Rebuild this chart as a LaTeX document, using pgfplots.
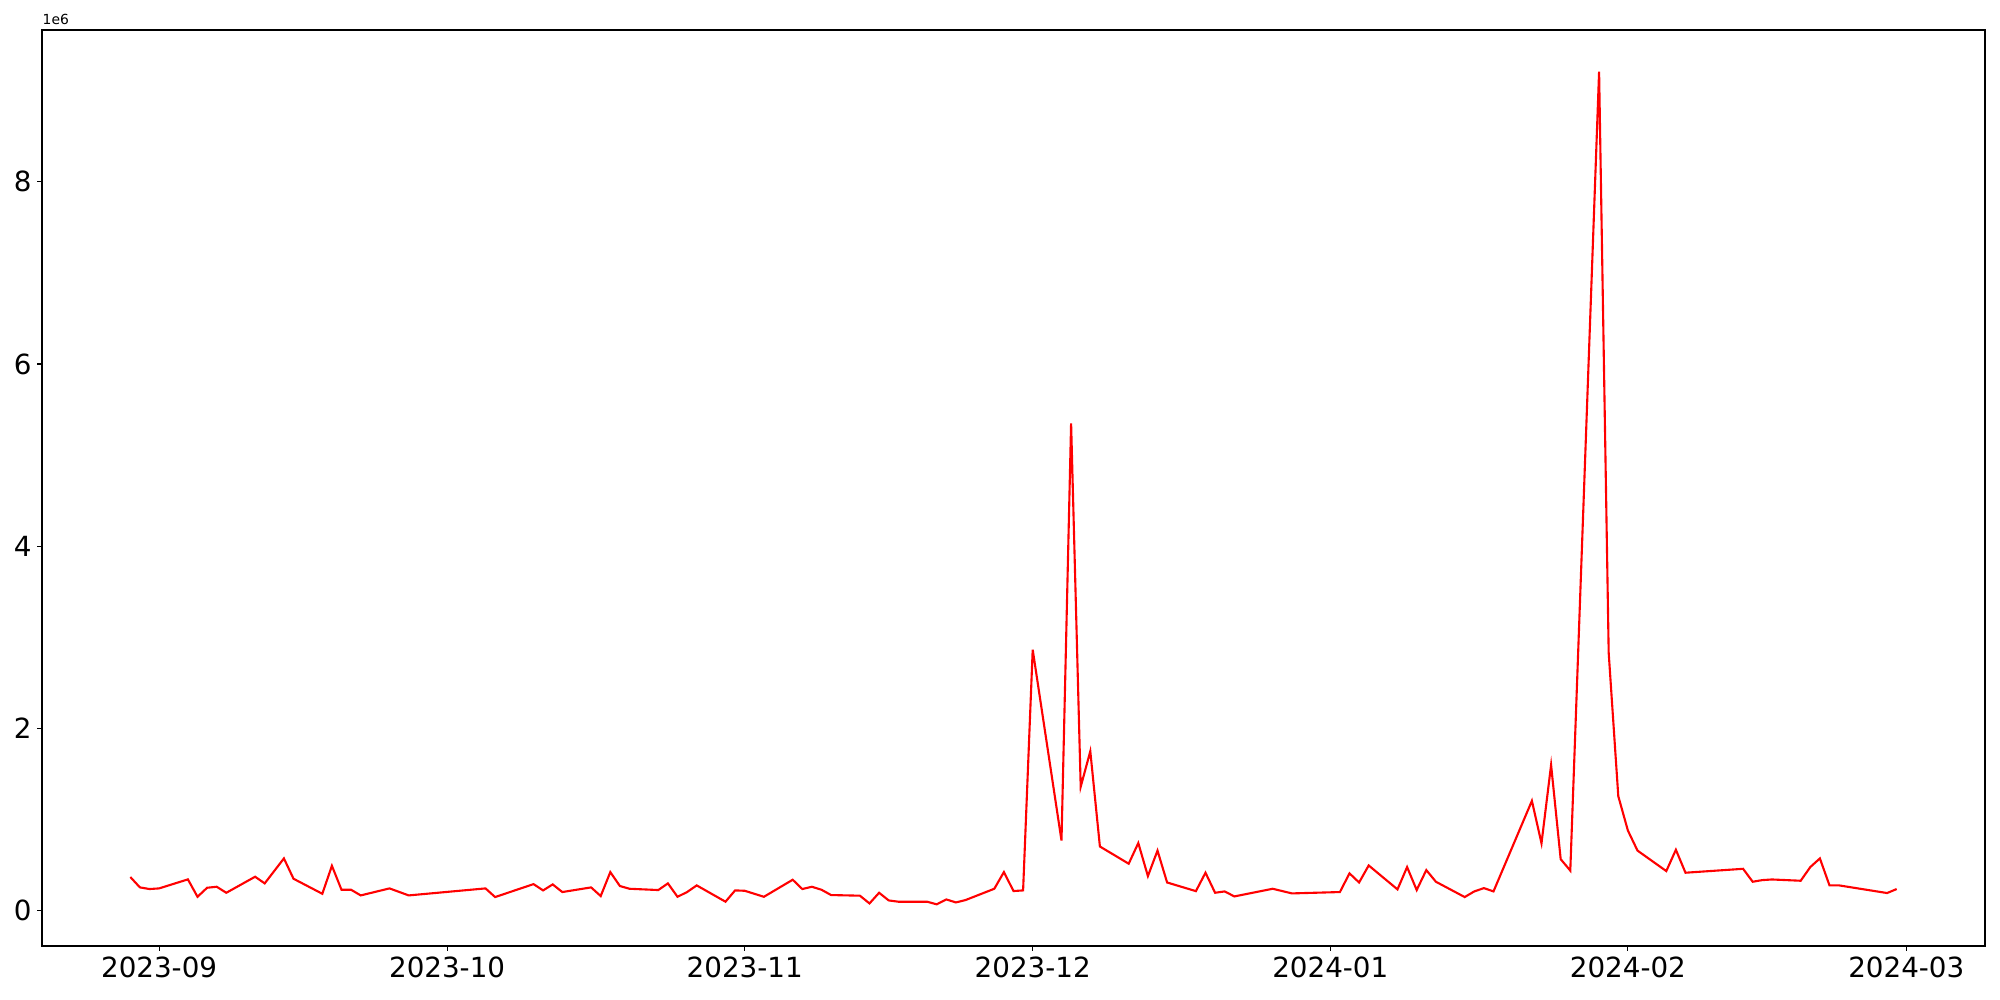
\documentclass[border=0pt]{standalone}
\usepackage{fontspec}
\setmainfont{DejaVu Sans}
\usepackage{pgfplots}
\pgfplotsset{compat=1.18}
\begin{document}
\begin{tikzpicture}
\path (0,0) rectangle (20cm,10cm);
\begin{axis}[
  at={(0.42cm,0.54cm)}, anchor=south west,
  scale only axis, width=19.43cm, height=9.16cm,
  xmin=-12.2, xmax=190.2, ymin=-0.387, ymax=9.667,
  axis line style={line width=0.32pt},
  tick style={line width=0.32pt, black},
  major tick length=1.38pt,
  tick align=outside,
  xtick={0,30,61,91,122,153,182},
  xticklabels={2023-09,2023-10,2023-11,2023-12,2024-01,2024-02,2024-03},
  ytick={0,2,4,6,8},
  xtick pos=bottom, ytick pos=left,
  tick label style={font=\fontsize{7.9}{9}\selectfont},
  /pgf/number format/assume math mode=true,
  xticklabel style={yshift=0pt},
  every tick label/.append style={inner sep=1.4pt},
  clip=false,
]
\addplot[red, line width=0.6pt] coordinates {
(-3,0.37) (-2,0.256) (-1,0.238) (0,0.245) (3,0.344) (4,0.153) (5,0.252) (6,0.263) (7,0.197)
(10,0.373) (11,0.30) (13,0.574) (14,0.351) (17,0.186) (18,0.493) (19,0.23) (20,0.23) (21,0.168)
(24,0.245) (26,0.168) (34,0.245) (35,0.15) (39,0.292) (40,0.223) (41,0.289) (42,0.205)
(45,0.256) (46,0.161) (47,0.424) (48,0.271) (49,0.241) (52,0.227) (53,0.30) (54,0.153) (55,0.205) (56,0.278)
(59,0.099) (60,0.223) (61,0.219) (63,0.153) (66,0.34) (67,0.238) (68,0.263) (69,0.23) (70,0.172)
(73,0.165) (74,0.08) (75,0.197) (76,0.113) (77,0.099) (80,0.099) (81,0.07) (82,0.124) (83,0.091) (84,0.117)
(87,0.241) (88,0.424) (89,0.216) (90,0.223) (91,2.865) (94,0.77) (95,5.35) (96,1.36) (97,1.75) (98,0.705)
(101,0.516) (102,0.743) (103,0.38) (104,0.66) (105,0.31) (108,0.215) (109,0.417) (110,0.197) (111,0.212) (112,0.157)
(116,0.241) (118,0.19) (123,0.205) (124,0.41) (125,0.31) (126,0.497) (129,0.234) (130,0.479) (131,0.227) (132,0.446) (133,0.318)
(136,0.15) (137,0.212) (138,0.248) (139,0.212) (143,1.206) (144,0.74) (145,1.60) (146,0.566) (147,0.44)
(150,9.21) (151,2.83) (152,1.257) (153,0.88) (154,0.66) (157,0.435) (158,0.669) (159,0.417)
(165,0.46) (166,0.318) (167,0.336) (168,0.343) (171,0.329) (172,0.479) (173,0.574) (174,0.278) (175,0.278)
(180,0.194) (181,0.238)
};
\node[anchor=south west, inner sep=0pt, font=\fontsize{3.95}{4.5}\selectfont] at ([yshift=1.2pt]rel axis cs:0,1) {1e6};
\end{axis}
\end{tikzpicture}
\end{document}
